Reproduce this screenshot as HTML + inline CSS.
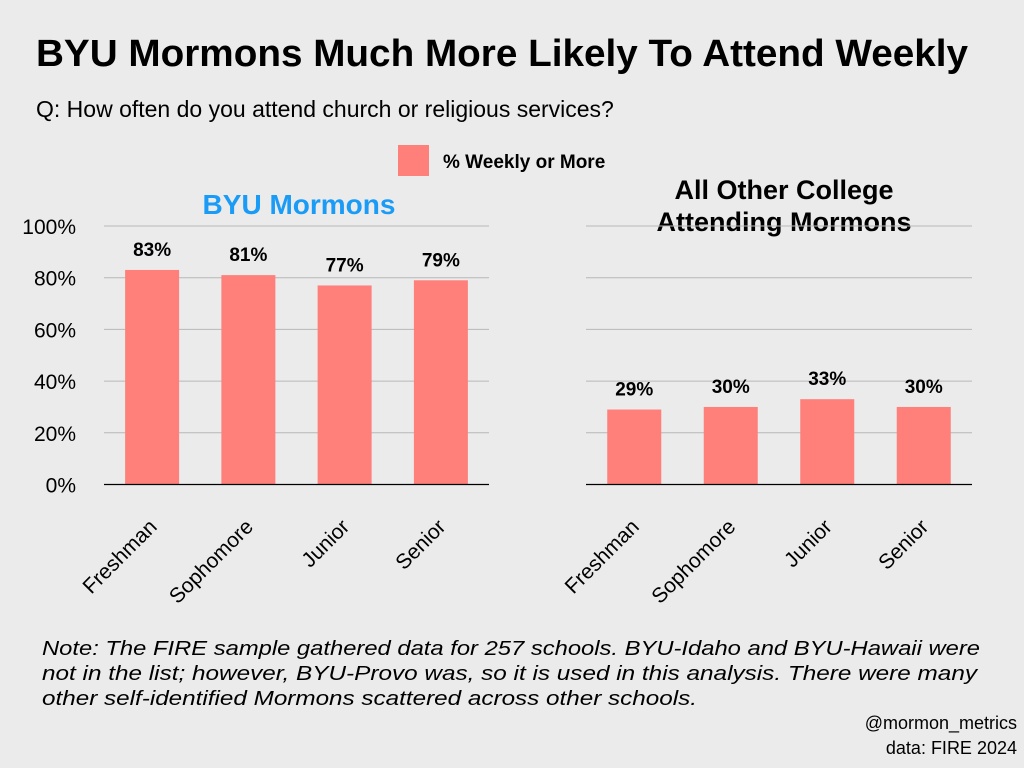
<!DOCTYPE html>
<html><head><meta charset="utf-8"><style>
body{margin:0;background:#ebebeb;}
svg{display:block;font-family:"Liberation Sans","DejaVu Sans",sans-serif;}
</style></head><body>
<svg id="c" width="1024" height="768" viewBox="0 0 1024 768">
<rect width="1024" height="768" fill="#ebebeb"/>
<text x="36" y="66" font-size="38" font-weight="bold" fill="#000" textLength="932" lengthAdjust="spacingAndGlyphs">BYU Mormons Much More Likely To Attend Weekly</text>
<text x="36" y="117" font-size="23" fill="#000">Q: How often do you attend church or religious services?</text>
<rect x="398" y="145" width="31" height="31" fill="#ff7f7a"/>
<text x="443" y="168" font-size="19" font-weight="bold">% Weekly or More</text>
<text x="299" y="214" font-size="28" font-weight="bold" fill="#1a9bf5" text-anchor="middle">BYU Mormons</text>
<text x="784" y="199" font-size="27" font-weight="bold" text-anchor="middle">All Other College</text>
<text x="784" y="231" font-size="27" font-weight="bold" text-anchor="middle">Attending Mormons</text>
<g id="plots"></g>
<text x="42" y="655" font-size="20" font-style="italic" textLength="938" lengthAdjust="spacingAndGlyphs">Note: The FIRE sample gathered data for 257 schools. BYU-Idaho and BYU-Hawaii were</text>
<text x="42" y="680" font-size="20" font-style="italic" textLength="935" lengthAdjust="spacingAndGlyphs">not in the list; however, BYU-Provo was, so it is used in this analysis. There were many</text>
<text x="42" y="705" font-size="20" font-style="italic" textLength="655" lengthAdjust="spacingAndGlyphs">other self-identified Mormons scattered across other schools.</text>
<text x="1017" y="729" font-size="18" text-anchor="end">@mormon_metrics</text>
<text x="1017" y="754" font-size="18" text-anchor="end">data: FIRE 2024</text>
</svg>
<script>
const categories = ["Freshman","Sophomore","Junior","Senior"];
const byuValues = [83,81,77,79];
const otherValues = [29,30,33,30];
const yTicks = [0,20,40,60,80,100];

const NS="http://www.w3.org/2000/svg";
const g=document.getElementById('plots');
function mk(t,a,txt){const e=document.createElementNS(NS,t);for(const k in a)e.setAttribute(k,a[k]);if(txt!==undefined)e.textContent=txt;g.appendChild(e);return e;}
const y0=484.5, yTop=226;
function yScale(v){return y0-(v/100)*(y0-yTop);}
function panel(x0,x1,vals,showAxis,prefix){
  const step=(x1-x0)/categories.length, bw=54;
  yTicks.forEach(t=>{
    if(t>0){const l=mk('line',{x1:x0,x2:x1,y1:yScale(t),y2:yScale(t),stroke:'#b8b8b8','stroke-width':1});
    
    }
    if(showAxis){const tx=mk('text',{x:76,y:yScale(t)+8,'font-size':21,'text-anchor':'end'},t+'%');
    
    }
  });
  vals.forEach((v,i)=>{
    const cx=x0+step*(i+0.5);
    const r=mk('rect',{x:cx-bw/2,y:yScale(v),width:bw,height:y0-yScale(v),fill:'#ff7f7a'});
    
    
    const lb=mk('text',{x:cx,y:yScale(v)-14,'font-size':19,'font-weight':'bold','text-anchor':'middle'},v+'%');
    
    
    const ax0=cx+6, ay0=528;
    const cl=mk('text',{x:ax0,y:ay0,'font-size':21,'text-anchor':'end',transform:`rotate(-45 ${ax0} ${ay0})`},categories[i]);
    
    
  });
  const ax=mk('line',{x1:x0,x2:x1,y1:y0,y2:y0,stroke:'#000','stroke-width':1.2});
  
  
}
panel(104,489,byuValues,true,'byu');
panel(586,972,otherValues,false,'other');
</script>
</body></html>
